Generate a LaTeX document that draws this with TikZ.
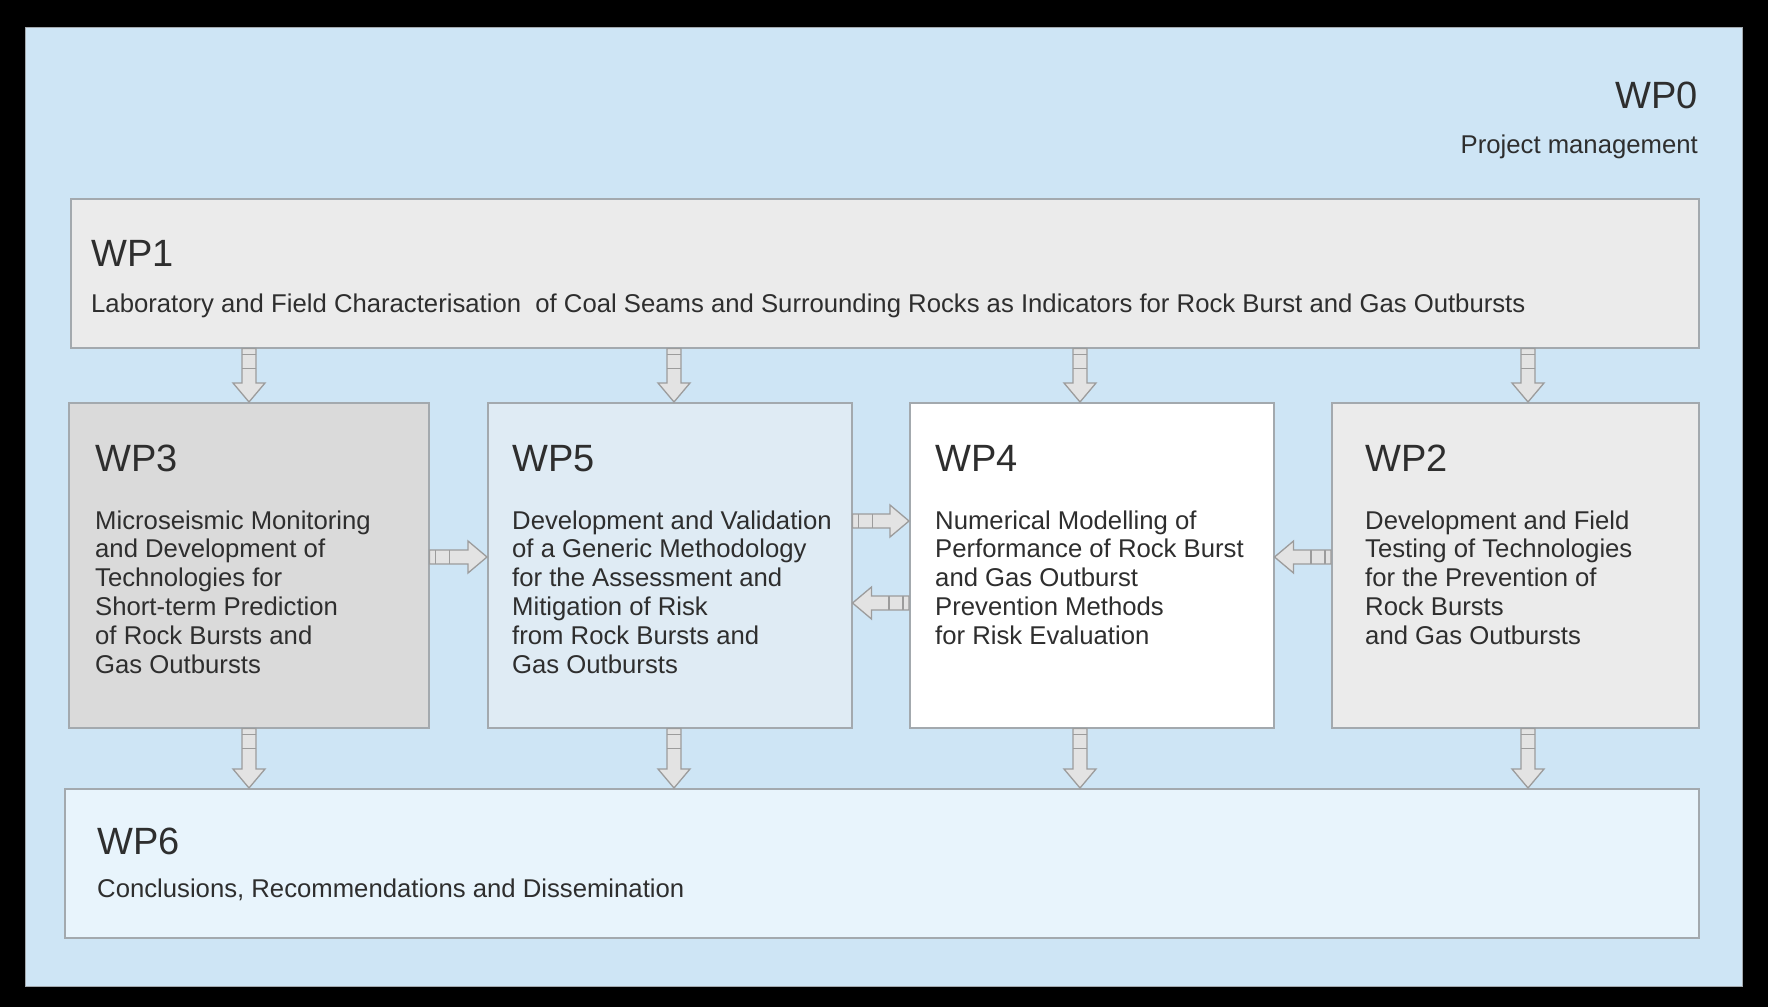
\documentclass[tikz,border=0pt]{standalone}
\usepackage{fontspec}
\setmainfont{Liberation Sans}
\usetikzlibrary{calc}
\definecolor{bgblue}{HTML}{CEE5F5}
\definecolor{boxline}{HTML}{A3A9AE}
\definecolor{txt}{HTML}{2E2E2E}
\definecolor{greyA}{HTML}{EBEBEB}
\definecolor{greyB}{HTML}{DADADA}
\definecolor{blueA}{HTML}{DFEBF4}
\definecolor{blueB}{HTML}{E8F4FC}
\definecolor{arrfill}{HTML}{E3E3E3}
\definecolor{arrline}{HTML}{9C9C9C}
\tikzset{
  box/.style={draw=boxline, line width=1.5pt, rectangle, inner sep=0pt, anchor=north west},
  head/.style={text=txt, inner sep=0pt, anchor=base west, font=\fontsize{38}{40}\selectfont},
  body/.style={text=txt, inner sep=0pt, anchor=base west, align=left, font=\fontsize{25.7}{28.8}\selectfont},
  arrbody/.style={fill=arrfill, draw=arrline, line width=1.3pt, line join=miter},
  arrstripe/.style={draw=arrline, line width=1.3pt},
}
\newcommand\blkarrow[2]{%
  \coordinate (h) at ($(#2)!19pt!(#1)$);
  \coordinate (s1) at ($(#1)!6pt!(#2)$);
  \coordinate (s2) at ($(#1)!20pt!(#2)$);
  \draw[arrbody] ($(#1)!7pt!90:(#2)$) -- ($(h)!7pt!-90:(#1)$) -- ($(h)!16pt!-90:(#1)$) -- (#2)
     -- ($(h)!16pt!90:(#1)$) -- ($(h)!7pt!90:(#1)$) -- ($(#1)!7pt!-90:(#2)$) -- cycle;
  \draw[arrstripe] ($(s1)!7pt!90:(#2)$) -- ($(s1)!7pt!-90:(#2)$)
     ($(s2)!7pt!90:(#2)$) -- ($(s2)!7pt!-90:(#2)$);
}
\begin{document}
\begin{tikzpicture}[x=1pt,y=-1pt]
\useasboundingbox (0,0) rectangle (1768,1007);
\fill[black] (0,0) rectangle (1768,1007);
\fill[bgblue, draw=boxline, line width=1pt] (25,27) rectangle (1742,986);

% WP0
\node[head, anchor=base east] (wp0h) at (1698,108) {WP0};
\node[body, anchor=base east] (wp0t) at (1698,153) {Project management};

% boxes
\node[box, fill=greyA, minimum width=1628, minimum height=149] (wp1) at (70,198) {};
\node[box, fill=greyB, minimum width=360, minimum height=325] (wp3) at (68,402) {};
\node[box, fill=blueA, minimum width=364, minimum height=325] (wp5) at (487,402) {};
\node[box, fill=white, minimum width=364, minimum height=325] (wp4) at (909,402) {};
\node[box, fill=greyA, minimum width=367, minimum height=325] (wp2) at (1331,402) {};
\node[box, fill=blueB, minimum width=1634, minimum height=149] (wp6) at (64,788) {};

% texts (multi-line nodes: base = baseline of last line)
\node[head] (wp1h) at (91,266) {WP1};
\node[body] (wp1t) at (91,312) {Laboratory and Field Characterisation\ \ of Coal Seams and Surrounding Rocks as Indicators for Rock Burst and Gas Outbursts};
\node[head] (wp3h) at (95,471) {WP3};
\node[body] (wp3t) at (95,673) {Microseismic Monitoring\\and Development of\\Technologies for\\Short-term Prediction\\of Rock Bursts and\\Gas Outbursts};
\node[head] (wp5h) at (512,471) {WP5};
\node[body] (wp5t) at (512,673) {Development and Validation\\of a Generic Methodology\\for the Assessment and\\Mitigation of Risk\\from Rock Bursts and\\Gas Outbursts};
\node[head] (wp4h) at (935,471) {WP4};
\node[body] (wp4t) at (935,644.2) {Numerical Modelling of\\Performance of Rock Burst\\and Gas Outburst\\Prevention Methods\\for Risk Evaluation};
\node[head] (wp2h) at (1365,471) {WP2};
\node[body] (wp2t) at (1365,644.2) {Development and Field\\Testing of Technologies\\for the Prevention of\\Rock Bursts\\and Gas Outbursts};
\node[head] (wp6h) at (97,854) {WP6};
\node[body] (wp6t) at (97,897) {Conclusions, Recommendations and Dissemination};

% arrow columns / rows
\coordinate (c3) at (249,0);
\coordinate (c5) at (674,0);
\coordinate (c4) at (1080,0);
\coordinate (c2) at (1528,0);
\coordinate (rA) at (0,521);
\coordinate (rB) at (0,557);
\coordinate (rC) at (0,603);

% vertical arrows WP1 -> row
\coordinate (a1) at (wp1.south -| c3); \coordinate (b1) at (wp3.north -| c3);
\coordinate (a2) at (wp1.south -| c5); \coordinate (b2) at (wp5.north -| c5);
\coordinate (a3) at (wp1.south -| c4); \coordinate (b3) at (wp4.north -| c4);
\coordinate (a4) at (wp1.south -| c2); \coordinate (b4) at (wp2.north -| c2);
\blkarrow{a1}{b1}
\blkarrow{a2}{b2}
\blkarrow{a3}{b3}
\blkarrow{a4}{b4}
% vertical arrows row -> WP6
\coordinate (d1) at (wp3.south -| c3); \coordinate (e1) at (wp6.north -| c3);
\coordinate (d2) at (wp5.south -| c5); \coordinate (e2) at (wp6.north -| c5);
\coordinate (d3) at (wp4.south -| c4); \coordinate (e3) at (wp6.north -| c4);
\coordinate (d4) at (wp2.south -| c2); \coordinate (e4) at (wp6.north -| c2);
\blkarrow{d1}{e1}
\blkarrow{d2}{e2}
\blkarrow{d3}{e3}
\blkarrow{d4}{e4}
% horizontal arrows
\coordinate (f1) at (wp3.east |- rB); \coordinate (g1) at (wp5.west |- rB);
\coordinate (f2) at (wp5.east |- rA); \coordinate (g2) at (wp4.west |- rA);
\coordinate (f3) at (wp4.west |- rC); \coordinate (g3) at (wp5.east |- rC);
\coordinate (f4) at (wp2.west |- rB); \coordinate (g4) at (wp4.east |- rB);
\blkarrow{f1}{g1}
\blkarrow{f2}{g2}
\blkarrow{f3}{g3}
\blkarrow{f4}{g4}
\end{tikzpicture}
\end{document}
